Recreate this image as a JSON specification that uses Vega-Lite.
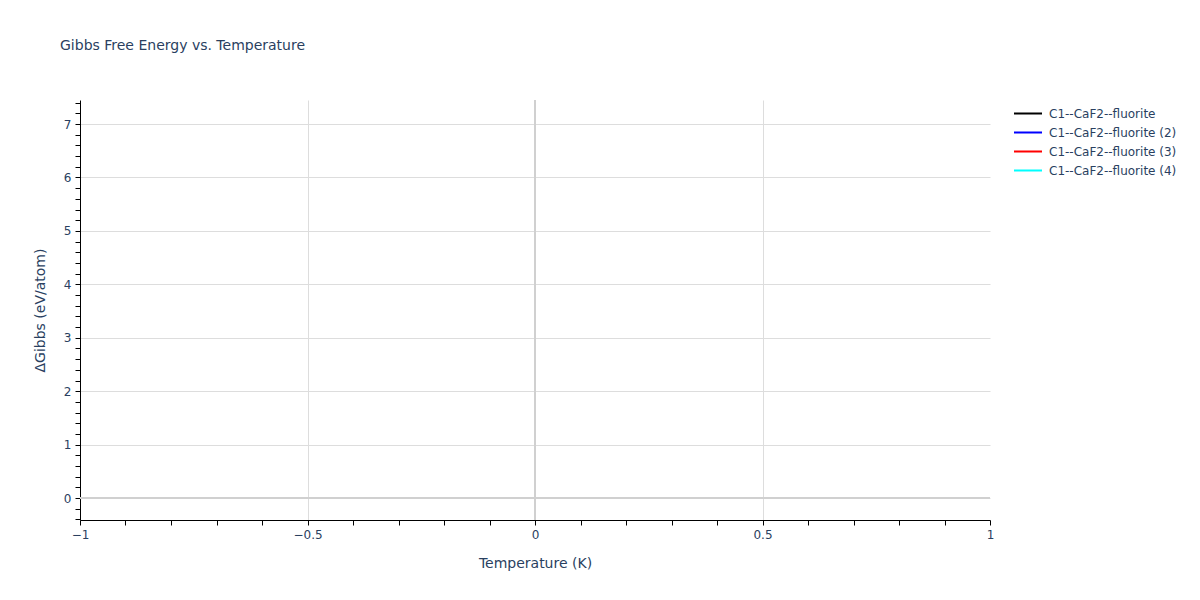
{
  "$schema": "https://vega.github.io/schema/vega-lite/v6.json",
  "autosize": "none",
  "width": 910,
  "height": 420,
  "padding": {"left": 80, "top": 100, "right": 210, "bottom": 80},
  "background": "white",
  "title": {
    "text": "Gibbs Free Energy vs. Temperature",
    "anchor": "start",
    "frame": "group",
    "dx": -20,
    "offset": 44,
    "font": "DejaVu Sans",
    "fontSize": 14,
    "fontWeight": "normal",
    "color": "#2a3f5f"
  },
  "config": {
    "view": {"stroke": null},
    "axis": {
      "labelFont": "DejaVu Sans",
      "labelFontSize": 12,
      "labelColor": "#2a3f5f",
      "titleFont": "DejaVu Sans",
      "titleFontSize": 14,
      "titleFontWeight": "normal",
      "titleColor": "#2a3f5f",
      "domainColor": "#000000",
      "tickColor": "#000000",
      "gridColor": "#dddddd",
      "gridWidth": 1,
      "labelOverlap": false,
      "labelFlush": false
    }
  },
  "data": {
    "values": [
      {"Temperature": 0, "Gibbs": 0, "Phase": "C1--CaF2--fluorite"},
      {"Temperature": 0, "Gibbs": 0, "Phase": "C1--CaF2--fluorite (2)"},
      {"Temperature": 0, "Gibbs": 0, "Phase": "C1--CaF2--fluorite (3)"},
      {"Temperature": 0, "Gibbs": 0, "Phase": "C1--CaF2--fluorite (4)"}
    ]
  },
  "resolve": {"axis": {"x": "independent", "y": "independent"}},
  "layer": [
    {
      "mark": {"type": "rule", "color": "#d0d0d0", "strokeWidth": 2},
      "encoding": {
        "y": {"datum": 0, "type": "quantitative", "scale": {"domain": [-0.41, 7.45], "nice": false, "zero": false},
          "axis": {
            "orient": "left",
            "values": [0, 1, 2, 3, 4, 5, 6, 7],
            "labels": false, "ticks": false, "grid": true, "domain": false, "title": null
          }
        }
      }
    },
    {
      "mark": {"type": "rule", "color": "#d0d0d0", "strokeWidth": 2},
      "encoding": {
        "x": {"datum": 0, "type": "quantitative", "scale": {"domain": [-1, 1], "nice": false, "zero": false},
          "axis": {
            "orient": "bottom",
            "values": [-0.5, 0, 0.5],
            "labels": false, "ticks": false, "grid": true, "domain": false, "title": null
          }
        }
      }
    },
    {
      "mark": {"type": "line", "strokeWidth": 2},
      "encoding": {
        "x": {
          "field": "Temperature",
          "type": "quantitative",
          "title": "Temperature (K)",
          "scale": {"domain": [-1, 1], "nice": false, "zero": false},
          "axis": {
            "orient": "bottom",
            "values": [-1, -0.9, -0.8, -0.7, -0.6, -0.5, -0.4, -0.3, -0.2, -0.1, 0, 0.1, 0.2, 0.3, 0.4, 0.5, 0.6, 0.7, 0.8, 0.9, 1],
            "labelExpr": "abs(datum.value*2 - round(datum.value*2)) < 1e-6 ? format(datum.value, '~g') : ''",
            "grid": false,
            "tickSize": 5,
            "labelPadding": 4,
            "titlePadding": 16
          }
        },
        "y": {
          "field": "Gibbs",
          "type": "quantitative",
          "title": "ΔGibbs (eV/atom)",
          "scale": {"domain": [-0.41, 7.45], "nice": false, "zero": false},
          "axis": {
            "orient": "left",
            "values": [-0.4, -0.2, 0, 0.2, 0.4, 0.6, 0.8, 1, 1.2, 1.4, 1.6, 1.8, 2, 2.2, 2.4, 2.6, 2.8, 3, 3.2, 3.4, 3.6, 3.8, 4, 4.2, 4.4, 4.6, 4.8, 5, 5.2, 5.4, 5.6, 5.8, 6, 6.2, 6.4, 6.6, 6.8, 7, 7.2, 7.4],
            "labelExpr": "abs(datum.value - round(datum.value)) < 1e-6 ? format(datum.value, '~g') : ''",
            "grid": false,
            "tickSize": 5,
            "labelPadding": 4,
            "titlePadding": 16
          }
        },
        "color": {
          "field": "Phase",
          "type": "nominal",
          "scale": {
            "domain": ["C1--CaF2--fluorite", "C1--CaF2--fluorite (2)", "C1--CaF2--fluorite (3)", "C1--CaF2--fluorite (4)"],
            "range": ["#000000", "#0000ff", "#ff0000", "#00ffff"]
          },
          "legend": {
            "title": null,
            "orient": "none",
            "legendX": 933,
            "legendY": 6,
            "symbolType": "stroke",
            "symbolSize": 784,
            "symbolStrokeWidth": 2,
            "clipHeight": 15,
            "labelFont": "DejaVu Sans",
            "labelFontSize": 12,
            "labelColor": "#2a3f5f",
            "rowPadding": 4,
            "labelOffset": 6
          }
        }
      }
    }
  ]
}
